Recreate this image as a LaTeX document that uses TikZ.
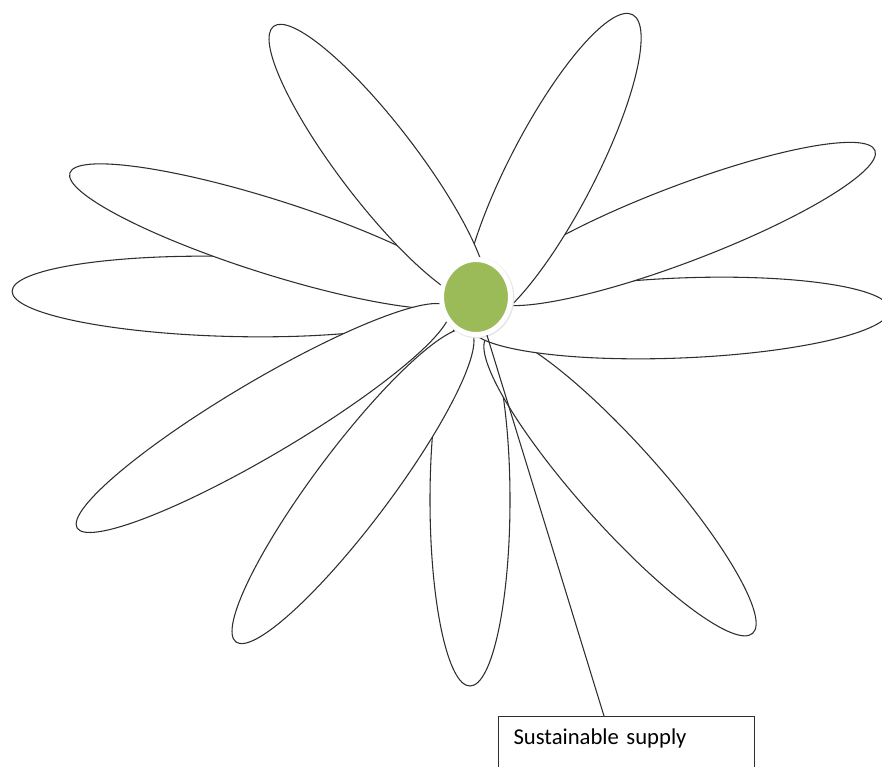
\documentclass[tikz,border=0pt]{standalone}
\usepackage{fontspec}
\setmainfont{Carlito}
\usepackage{tikz}
\usetikzlibrary{shapes.geometric}
\definecolor{leaf}{HTML}{9BBB59}
\definecolor{ink}{HTML}{2E2E2E}
\newcommand{\petal}[5]{\draw[petal,rotate around={#5:(#1,#2)}] (#1,#2) ellipse [x radius=#3,y radius=#4];}

\begin{document}
\begin{tikzpicture}[x=0.75pt,y=-0.75pt,font=\fontsize{17}{20}\selectfont,
  petal/.style={draw=ink,line width=0.8pt,fill=white},
  core/.style={ellipse,fill=leaf,draw=white,line width=3.75pt,minimum width=51.75pt,minimum height=56.25pt,inner sep=0pt,
    preaction={draw=black!10,line width=4.5pt,transform canvas={shift={(0.6pt,-0.6pt)}}}},
  supplybox/.style={draw=ink,line width=0.8pt,fill=white,anchor=north west,align=left,text width=169.5pt,
    inner xsep=11.25pt,inner ysep=0pt,text height=21pt,text depth=45pt},
  stem/.style={draw=ink,line width=0.8pt}]
\useasboundingbox (0,0) rectangle (882,767);
\petal{232}{296.5}{220}{40}{-1.4}
\petal{270}{236.5}{210}{37}{-17.6}
\petal{470}{500}{40}{186}{0}
\petal{263}{418}{216}{37}{30.6}
\petal{353}{486}{195}{38}{53.1}
\petal{620}{485}{199}{41}{-48.2}
\petal{680}{318}{210}{40}{2.3}
\petal{682}{224}{206.5}{38}{20.85}
\petal{552}{170}{175}{43}{62.6}
\petal{378}{163}{172}{39}{-52.6}
\node[core] (core) at (476,297) {};
\node[supplybox] (supply) at (498,716) {Sustainable supply};
\draw[stem] (core.-74) -- ([xshift=79.5pt]supply.north west);
\end{tikzpicture}
\end{document}
